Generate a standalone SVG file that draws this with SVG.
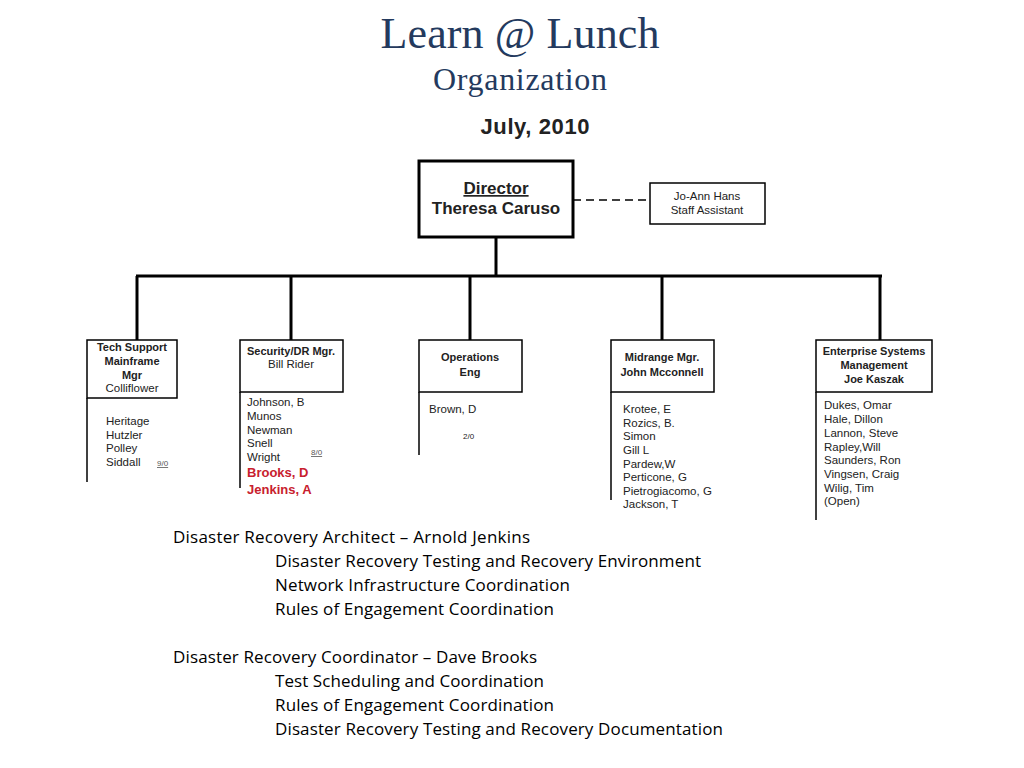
<svg xmlns="http://www.w3.org/2000/svg" width="1024" height="768" viewBox="0 0 1024 768">
<style>
.t{font-family:"Liberation Serif",serif;fill:#243a5e;text-anchor:middle}
.a{font-family:"Liberation Sans",Arial,sans-serif;fill:#222}
.b{font-weight:bold}
.c{text-anchor:middle}
.h{font-size:11px}
.m{font-size:11.5px}
.s{font-size:8px;fill:#555;text-decoration:underline}
.r{font-size:13px;font-weight:bold;fill:#c8202e}
.box{fill:#fff;stroke:#000;stroke-width:1.5}
.ln{stroke:#000;stroke-width:3;fill:none}
.thin{stroke:#000;stroke-width:1.5;fill:none}
.n{font-family:"Open Sans",sans-serif;font-size:17px;fill:#000}
</style>
<rect width="1024" height="768" fill="#fff"/>
<text class="t" x="520" y="48" font-size="44" textLength="279">Learn @ Lunch</text>
<text class="t" x="520" y="90" font-size="32" textLength="174">Organization</text>
<text class="a b c" x="535" y="134" font-size="22" textLength="109">July, 2010</text>

<g id="connectors">
<line class="ln" x1="496" y1="237" x2="496" y2="276"/>
<line class="ln" x1="136" y1="276" x2="882" y2="276"/>
<line class="ln" x1="137" y1="276" x2="137" y2="340"/>
<line class="ln" x1="291" y1="276" x2="291" y2="340"/>
<line class="ln" x1="470" y1="276" x2="470" y2="340"/>
<line class="ln" x1="662" y1="276" x2="662" y2="340"/>
<line class="ln" x1="880" y1="276" x2="880" y2="340"/>
<line x1="573" y1="200" x2="650" y2="200" stroke="#000" stroke-width="1.5" stroke-dasharray="8,5"/>
<line class="thin" x1="87" y1="398" x2="87" y2="482"/>
<line class="thin" x1="240" y1="392" x2="240" y2="488"/>
<line class="thin" x1="419" y1="392" x2="419" y2="455"/>
<line class="thin" x1="611" y1="392" x2="611" y2="500"/>
<line class="thin" x1="816" y1="392" x2="816" y2="520"/>
</g>

<g id="director">
<rect x="419" y="161" width="154" height="76" fill="#fff" stroke="#000" stroke-width="3"/>
<text class="a b c" x="496" y="194" font-size="17" text-decoration="underline">Director</text>
<text class="a b c" x="496" y="214" font-size="17">Theresa Caruso</text>
</g>

<g id="staff">
<rect class="box" x="650" y="183" width="115" height="41"/>
<text class="a c m" x="707" y="200">Jo-Ann Hans</text>
<text class="a c m" x="707" y="214">Staff Assistant</text>
</g>

<g id="techsupport">
<rect class="box" x="87" y="340" width="90" height="58"/>
<text class="a b c h" x="132" y="351">Tech Support</text>
<text class="a b c h" x="132" y="365">Mainframe</text>
<text class="a b c h" x="132" y="379">Mgr</text>
<text class="a c m" x="132" y="392">Colliflower</text>
<text class="a m" x="106" y="425">Heritage</text>
<text class="a m" x="106" y="439">Hutzler</text>
<text class="a m" x="106" y="452">Polley</text>
<text class="a m" x="106" y="466">Siddall</text>
<text class="a s" x="157" y="466">9/0</text>
</g>

<g id="security">
<rect class="box" x="240" y="340" width="103" height="52"/>
<text class="a b c h" x="291" y="355">Security/DR Mgr.</text>
<text class="a c m" x="291" y="368">Bill Rider</text>
<text class="a m" x="247" y="406">Johnson, B</text>
<text class="a m" x="247" y="420">Munos</text>
<text class="a m" x="247" y="434">Newman</text>
<text class="a m" x="247" y="447">Snell</text>
<text class="a m" x="247" y="461">Wright</text>
<text class="a s" x="311" y="455">8/0</text>
<text class="a r" x="247" y="477">Brooks, D</text>
<text class="a r" x="247" y="494">Jenkins, A</text>
</g>

<g id="operations">
<rect class="box" x="419" y="340" width="103" height="52"/>
<text class="a b c h" x="470" y="361">Operations</text>
<text class="a b c h" x="470" y="376">Eng</text>
<text class="a m" x="429" y="413">Brown, D</text>
<text class="a" x="463" y="439" font-size="8" fill="#555">2/0</text>
</g>

<g id="midrange">
<rect class="box" x="611" y="340" width="103" height="52"/>
<text class="a b c h" x="662" y="361">Midrange Mgr.</text>
<text class="a b c h" x="662" y="376">John Mcconnell</text>
<text class="a m" x="623" y="413">Krotee, E</text>
<text class="a m" x="623" y="427">Rozics, B.</text>
<text class="a m" x="623" y="440">Simon</text>
<text class="a m" x="623" y="454">Gill L</text>
<text class="a m" x="623" y="468">Pardew,W</text>
<text class="a m" x="623" y="481">Perticone, G</text>
<text class="a m" x="623" y="495">Pietrogiacomo, G</text>
<text class="a m" x="623" y="508">Jackson, T</text>
</g>

<g id="enterprise">
<rect class="box" x="816" y="340" width="116" height="52"/>
<text class="a b c h" x="874" y="355">Enterprise Systems</text>
<text class="a b c h" x="874" y="369">Management</text>
<text class="a b c h" x="874" y="383">Joe Kaszak</text>
<text class="a m" x="824" y="409">Dukes, Omar</text>
<text class="a m" x="824" y="423">Hale, Dillon</text>
<text class="a m" x="824" y="437">Lannon, Steve</text>
<text class="a m" x="824" y="451">Rapley,Will</text>
<text class="a m" x="824" y="464">Saunders, Ron</text>
<text class="a m" x="824" y="478">Vingsen, Craig</text>
<text class="a m" x="824" y="492">Wilig, Tim</text>
<text class="a m" x="824" y="505">(Open)</text>
</g>

<g id="notes">
<text class="n" x="173" y="543" textLength="357">Disaster Recovery Architect – Arnold Jenkins</text>
<text class="n" x="275" y="567" textLength="426">Disaster Recovery Testing and Recovery Environment</text>
<text class="n" x="275" y="591" textLength="295">Network Infrastructure Coordination</text>
<text class="n" x="275" y="615" textLength="279">Rules of Engagement Coordination</text>
<text class="n" x="173" y="663" textLength="364">Disaster Recovery Coordinator – Dave Brooks</text>
<text class="n" x="275" y="687" textLength="269">Test Scheduling and Coordination</text>
<text class="n" x="275" y="711" textLength="279">Rules of Engagement Coordination</text>
<text class="n" x="275" y="735" textLength="448">Disaster Recovery Testing and Recovery Documentation</text>
</g>
</svg>
